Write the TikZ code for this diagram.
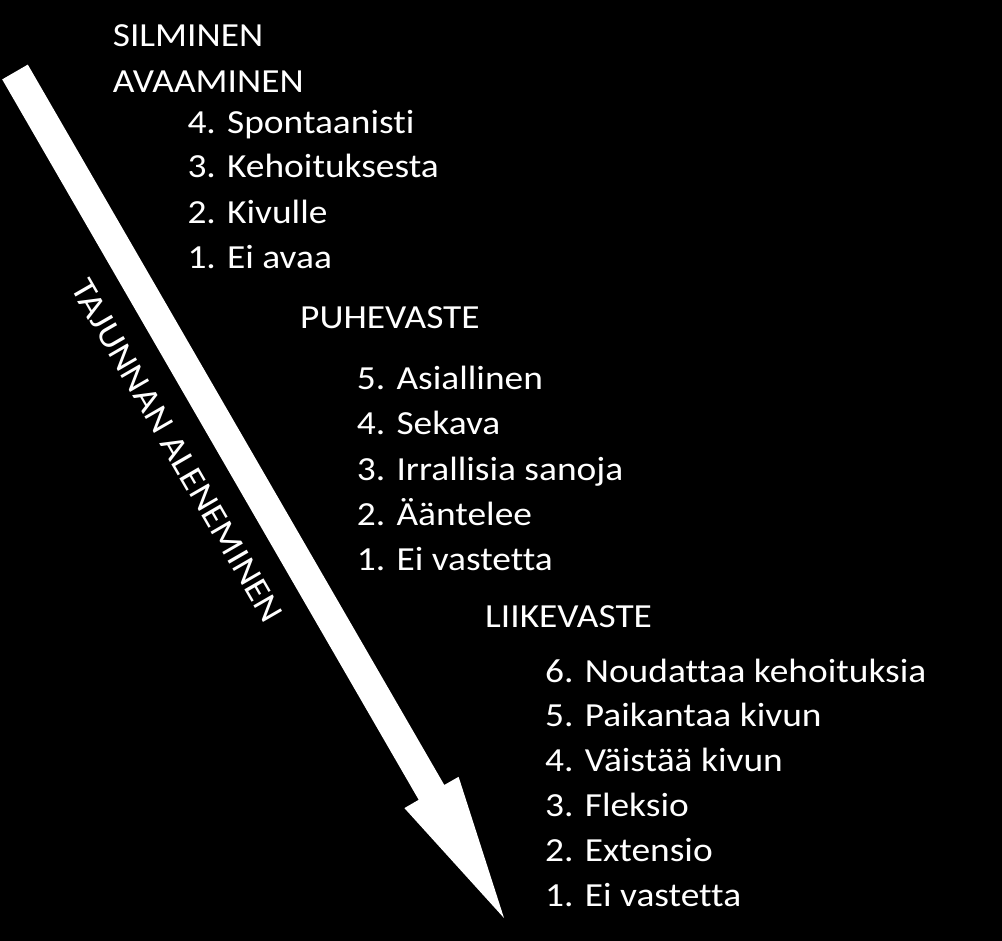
\documentclass[tikz,border=0pt]{standalone}
\usepackage{fontspec}
\setmainfont{Carlito}[FakeStretch=1.11, Ligatures=NoCommon]
\begin{document}
\begin{tikzpicture}[x=1pt,y=-1pt,
  lbl/.style={anchor=base west, text=white, inner sep=0pt, font=\fontsize{33.7}{40}\selectfont},
  arrowfill/.style={fill=white, draw=none}]
\fill[black] (0,0) rectangle (1002,941);
\useasboundingbox (0,0) rectangle (1002,941);
% arrow
\coordinate (s1) at (2.2,79.4);
\coordinate (s2) at (27.8,64.6);
\coordinate (b2) at (444.3,785.0);
\coordinate (h2) at (458.6,776.8);
\coordinate (tip) at (504,918);
\coordinate (h1) at (404.4,808.1);
\coordinate (b1) at (418.7,799.8);
\fill[arrowfill] (s1) -- (s2) -- (b2) -- (h2) -- (tip) -- (h1) -- (b1) -- cycle;
\node[rotate=-60, text=white, inner sep=0pt, font=\fontsize{34.4}{40}\selectfont] (tajunta) at (177,451) {TAJUNNAN ALENEMINEN};
% group 1
\node[lbl] (g1a) at (112.7,46.7) {SILMINEN};
\node[lbl] (g1b) at (112.7,92.3) {AVAAMINEN};
\node[lbl] (g1i4) at (187.3,133.5) {4. Spontaanisti};
\node[lbl] (g1i3) at (187.3,178) {3. Kehoituksesta};
\node[lbl] (g1i2) at (187.3,223.3) {2. Kivulle};
\node[lbl] (g1i1) at (187.3,268.3) {1. Ei avaa};
% group 2
\node[lbl] (g2) at (300,328.3) {PUHEVASTE};
\node[lbl] (g2i5) at (356.7,390) {5. Asiallinen};
\node[lbl] (g2i4) at (356.7,434.5) {4. Sekava};
\node[lbl] (g2i3) at (356.7,480) {3. Irrallisia sanoja};
\node[lbl] (g2i2) at (356.7,525) {2. Ääntelee};
\node[lbl] (g2i1) at (356.7,570) {1. Ei vastetta};
% group 3
\node[lbl] (g3) at (485,627.3) {LIIKEVASTE};
\node[lbl] (g3i6) at (545,682.3) {6. Noudattaa kehoituksia};
\node[lbl] (g3i5) at (545,726.7) {5. Paikantaa kivun};
\node[lbl] (g3i4) at (545,771.7) {4. Väistää kivun};
\node[lbl] (g3i3) at (545,816.7) {3. Fleksio};
\node[lbl] (g3i2) at (545,861.7) {2. Extensio};
\node[lbl] (g3i1) at (545,906.7) {1. Ei vastetta};
\end{tikzpicture}
\end{document}
